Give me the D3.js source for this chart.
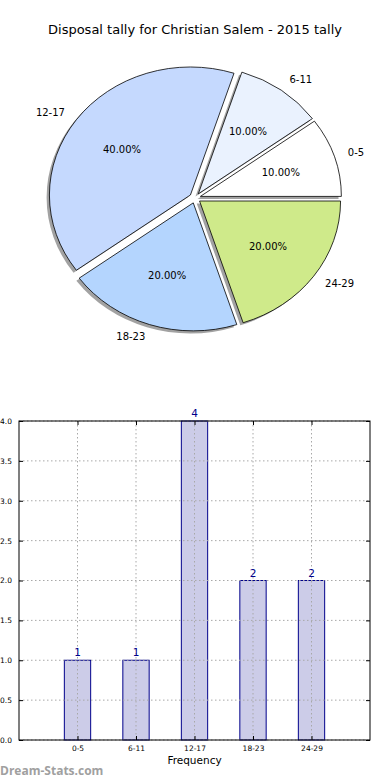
<!DOCTYPE html>
<html>
<head>
<meta charset="utf-8">
<script src="https://cdn.jsdelivr.net/npm/d3@7"></script>
<style>
  html, body { margin: 0; padding: 0; background: #fff; }
  svg { display: block; font-family: "DejaVu Sans", sans-serif; }
</style>
</head>
<body>
<svg id="chart" width="390" height="780"></svg>
<script>
// ---------- data ----------
const titleText = "Disposal tally for Christian Salem - 2015 tally";
const categories = ["0-5", "6-11", "12-17", "18-23", "24-29"];
const counts = [1, 1, 4, 2, 2];
const pieColors = ["#ffffff", "#eaf2fe", "#c5d9fe", "#b4d5fe", "#cfea8a"];
const yTicks = [0.0, 0.5, 1.0, 1.5, 2.0, 2.5, 3.0, 3.5, 4.0];
const xLabel = "Frequency";
const watermark = "Dream-Stats.com";

(function () {
const svg = d3.select("#chart");

// ---------- title ----------
svg.append("text")
  .attr("x", 195).attr("y", 34)
  .attr("text-anchor", "middle")
  .attr("font-size", 13)
  .attr("fill", "#000")
  .text(titleText);

// ---------- pie ----------
const cx = 195, cy = 198, rx = 141, ry = 128;
const explode = 0.04;
const total = d3.sum(counts);
const pie = d3.pie().sort(null).value(d => d)
  .startAngle(Math.PI / 2).endAngle(Math.PI / 2 - 2 * Math.PI);
const arcs = pie(counts);
const arcGen = d3.arc().innerRadius(0).outerRadius(1);

function centerOf(a) {
  const m = (a.startAngle + a.endAngle) / 2;
  return {
    m,
    x: cx + explode * rx * Math.sin(m),
    y: cy - explode * ry * Math.cos(m)
  };
}

const pieG = svg.append("g");
arcs.forEach((a) => {
  const c = centerOf(a);
  pieG.append("path")
    .attr("d", arcGen(a))
    .attr("transform", `translate(${c.x - 0.02 * rx},${c.y + 0.02 * ry}) scale(${rx},${ry})`)
    .attr("fill", "#7a7a7a")
    .attr("fill-opacity", 0.7)
    .attr("stroke", "none");
});
arcs.forEach((a, i) => {
  const c = centerOf(a);
  pieG.append("path")
    .attr("d", arcGen(a))
    .attr("transform", `translate(${c.x},${c.y}) scale(${rx},${ry})`)
    .attr("fill", pieColors[i])
    .attr("stroke", "#000")
    .attr("stroke-width", 0.8)
    .attr("vector-effect", "non-scaling-stroke");
});
arcs.forEach((a, i) => {
  const c = centerOf(a);
  const lx = c.x + 1.1 * rx * Math.sin(c.m);
  const ly = c.y - 1.1 * ry * Math.cos(c.m);
  pieG.append("text")
    .attr("x", lx).attr("y", ly)
    .attr("dy", "0.35em")
    .attr("text-anchor", lx - cx > 0 ? "start" : "end")
    .attr("font-size", 10)
    .text(categories[i]);
  const px = c.x + 0.6 * rx * Math.sin(c.m);
  const py = c.y - 0.6 * ry * Math.cos(c.m);
  pieG.append("text")
    .attr("x", px).attr("y", py)
    .attr("dy", "0.35em")
    .attr("text-anchor", "middle")
    .attr("font-size", 10)
    .text(d3.format(".2f")(100 * counts[i] / total) + "%");
});

// ---------- bar chart ----------
const pLeft = 19, pRight = 370, pTop = 421, pBottom = 740;
const x = d3.scaleLinear().domain([-1, 5]).range([pLeft, pRight]);
const y = d3.scaleLinear().domain([0, 4]).range([pBottom, pTop]);
const barW = 0.45;
const bg = svg.append("g");

bg.selectAll("rect.bar").data(counts).enter().append("rect")
  .attr("class", "bar")
  .attr("x", (d, i) => x(i - barW / 2))
  .attr("width", (d, i) => x(i + barW / 2) - x(i - barW / 2))
  .attr("y", d => y(d))
  .attr("height", d => y(0) - y(d))
  .attr("fill", "#00008b").attr("fill-opacity", 0.2)
  .attr("stroke", "#00008b").attr("stroke-width", 1);

const gridStyle = sel => sel.attr("stroke", "#a8a8a8").attr("stroke-width", 1)
  .attr("stroke-dasharray", "1.5,2.5");
bg.selectAll("line.hg").data(yTicks).enter().append("line")
  .attr("class", "hg")
  .attr("x1", pLeft).attr("x2", pRight)
  .attr("y1", d => y(d)).attr("y2", d => y(d))
  .call(gridStyle);
bg.selectAll("line.vg").data(categories).enter().append("line")
  .attr("class", "vg")
  .attr("y1", pTop).attr("y2", pBottom)
  .attr("x1", (d, i) => x(i)).attr("x2", (d, i) => x(i))
  .call(gridStyle);

bg.append("rect")
  .attr("x", pLeft).attr("y", pTop)
  .attr("width", pRight - pLeft).attr("height", pBottom - pTop)
  .attr("fill", "none").attr("stroke", "#000").attr("stroke-width", 1);

const yAxis = d3.axisLeft(y).tickValues(yTicks).tickFormat(d3.format(".1f"))
  .tickSizeInner(-4).tickSizeOuter(0).tickPadding(7);
const yg = bg.append("g").attr("transform", `translate(${pLeft},0)`).call(yAxis);
yg.select(".domain").remove();
yg.selectAll("text").attr("font-size", 7.5).attr("font-family", "DejaVu Sans").attr("fill", "#000");
const yAxisR = d3.axisRight(y).tickValues(yTicks).tickFormat("")
  .tickSizeInner(-4).tickSizeOuter(0);
const ygr = bg.append("g").attr("transform", `translate(${pRight},0)`).call(yAxisR);
ygr.select(".domain").remove();

const xAxis = d3.axisBottom(x).tickValues(d3.range(categories.length))
  .tickFormat(i => categories[i]).tickSizeInner(-4).tickSizeOuter(0).tickPadding(6);
const xg = bg.append("g").attr("transform", `translate(0,${pBottom})`).call(xAxis);
xg.select(".domain").remove();
xg.selectAll("text").attr("font-size", 7.5).attr("font-family", "DejaVu Sans").attr("fill", "#000");
const xAxisT = d3.axisTop(x).tickValues(d3.range(categories.length))
  .tickFormat("").tickSizeInner(-4).tickSizeOuter(0);
const xgt = bg.append("g").attr("transform", `translate(0,${pTop})`).call(xAxisT);
xgt.select(".domain").remove();

bg.selectAll("text.val").data(counts).enter().append("text")
  .attr("class", "val")
  .attr("x", (d, i) => x(i))
  .attr("y", d => y(d) - 4)
  .attr("text-anchor", "middle")
  .attr("font-size", 10.5)
  .attr("fill", "#00008b")
  .text(d => d);

svg.append("text")
  .attr("x", (pLeft + pRight) / 2).attr("y", 764)
  .attr("text-anchor", "middle")
  .attr("font-size", 10.5)
  .text(xLabel);

svg.append("text")
  .attr("x", 0).attr("y", 775)
  .attr("font-size", 12)
  .attr("fill", "#a0a0a0")
  .attr("font-weight", "bold")
  .attr("font-family", "'Open Sans', 'DejaVu Sans', sans-serif")
  .text(watermark);
})();
</script>
</body>
</html>
